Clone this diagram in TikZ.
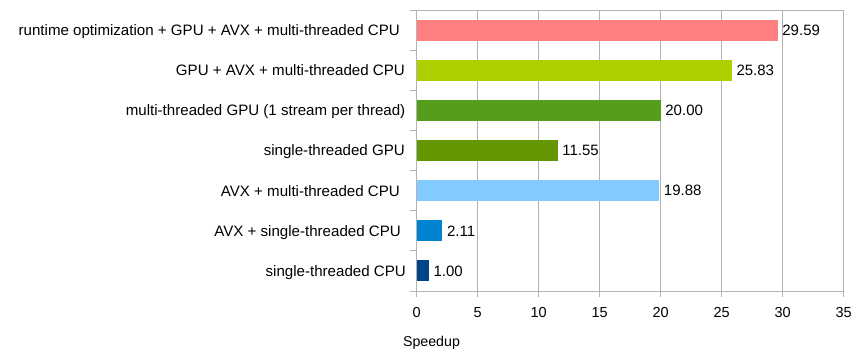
\documentclass[tikz,border=0pt]{standalone}
\usepackage{fontspec}
\setmainfont{Liberation Sans}
\definecolor{gridgray}{HTML}{B3B3B3}
\definecolor{cSalmon}{HTML}{FF8080}
\definecolor{cLime}{HTML}{AECF00}
\definecolor{cGreen}{HTML}{579D1C}
\definecolor{cOlive}{HTML}{639600}
\definecolor{cSky}{HTML}{83CAFF}
\definecolor{cBlue}{HTML}{0084D1}
\definecolor{cNavy}{HTML}{004586}
\begin{document}
\begin{tikzpicture}[x=1pt,y=-1pt,
  font=\fontsize{15}{17}\selectfont,
  gridline/.style={draw=gridgray, line width=1pt},
  bar/.style={draw=none, inner sep=0pt, outer sep=0pt, minimum height=21pt, anchor=west},
  catlabel/.style={anchor=base east, inner sep=0pt, font=\fontsize{15.1}{17}\selectfont},
  vallabel/.style={anchor=west, inner sep=0pt},
  ticklabel/.style={anchor=base, inner sep=0pt, font=\fontsize{14.5}{17}\selectfont}]
  \useasboundingbox[fill=white] (0,0) rectangle (855,349);
  % plot geometry: x0 = 416.7, 12.2 units per speedup step, rows of 40.14
  \def\xo{416.7}
  \def\sc{12.2}
  \def\yt{10}
  \def\yb{291}
  % vertical grid lines and bottom ticks
  \foreach \t in {0,5,...,35} {
    \draw[gridline] ({\xo+\sc*\t},\yt) -- ({\xo+\sc*\t},{\yb+6});
    \node[ticklabel] (tick\t) at ({\xo+\sc*\t},317) {\t};
  }
  % frame top and bottom axis
  \draw[gridline] (\xo,\yt) -- ({\xo+\sc*35},\yt);
  \draw[gridline] ({\xo-6.5},\yb) -- ({\xo+\sc*35},\yb);
  % left-axis category ticks
  \foreach \k in {0,...,6} {
    \draw[gridline] ({\xo-6.5},{\yt+40.14*\k}) -- (\xo,{\yt+40.14*\k});
  }
  % bars, category names and values
  \foreach \i/\v/\c/\xr/\lab in {
      0/29.59/cSalmon/400/{runtime optimization + GPU + AVX + multi-threaded CPU},
      1/25.83/cLime/405/{GPU + AVX + multi-threaded CPU},
      2/20.00/cGreen/405.5/{multi-threaded GPU (1 stream per thread)},
      3/11.55/cOlive/405/{single-threaded GPU},
      4/19.88/cSky/400/{AVX + multi-threaded CPU},
      5/2.11/cBlue/401/{AVX + single-threaded CPU},
      6/1.00/cNavy/406/{single-threaded CPU}} {
    \pgfmathsetmacro\yc{\yt+40.14*(\i+0.5)}
    \node[bar, fill=\c, minimum width={\sc*\v}] (bar\i) at (\xo,\yc) {};
    \node[vallabel] (val\i) at ([xshift=4.5pt]bar\i.east) {\v};
    \node[catlabel] (cat\i) at (\xr,{\yc+5.4}) {\lab};
  }
  \node[anchor=base, inner sep=0pt, font=\fontsize{14.2}{17}\selectfont] (xtitle) at (431.5,346.5) {Speedup};
\end{tikzpicture}
\end{document}
